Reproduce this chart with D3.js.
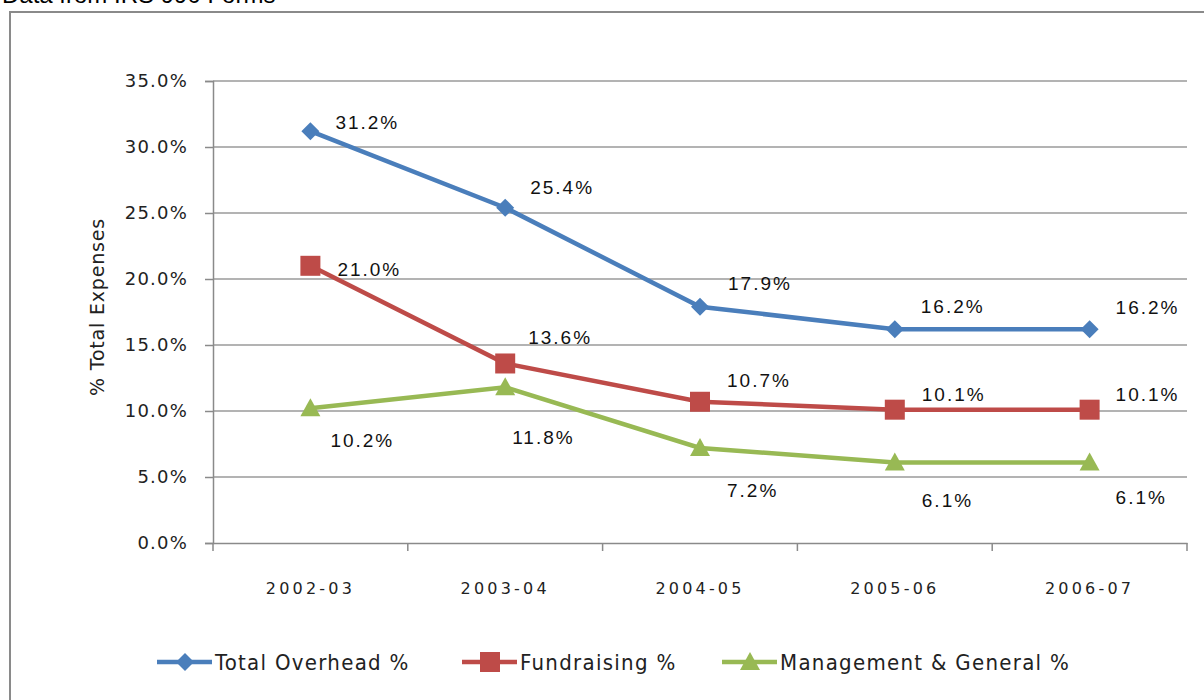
<!DOCTYPE html>
<html><head><meta charset="utf-8">
<script src="https://cdn.jsdelivr.net/npm/d3@7"></script>
<style>body{margin:0;background:#fff;overflow:hidden}svg{display:block}</style>
</head><body>
<script>
const categories = ["2002-03","2003-04","2004-05","2005-06","2006-07"];
const totalOverhead = [31.2,25.4,17.9,16.2,16.2];
const fundraising = [21.0,13.6,10.7,10.1,10.1];
const management = [10.2,11.8,7.2,6.1,6.1];
const yTicks = [0,5,10,15,20,25,30,35];
const seriesNames = ["Total Overhead %","Fundraising %","Management & General %"];

const W=1204,H=700;
const svg=d3.select("body").append("svg").attr("width",W).attr("height",H);

// outer frame
svg.append("rect").attr("x",10).attr("y",12).attr("width",1210).attr("height",720)
  .attr("fill","none").attr("stroke","#8a8a8a").attr("stroke-width",2);
svg.append("text").attr("x",2).attr("y",3).attr("font-family","Liberation Sans, Arial").attr("font-size",24)
  .attr("fill","#000").text("Data from IRS 990 Forms");

const x=d3.scaleBand().domain(categories).range([213,1187]);
const y=d3.scaleLinear().domain([0,35]).range([543,81]);

// gridlines
svg.append("g").selectAll("line").data(yTicks.filter(d=>d>0)).join("line")
  .attr("x1",213).attr("x2",1187).attr("y1",d=>y(d)).attr("y2",d=>y(d))
  .attr("stroke","#9a9a9a").attr("stroke-width",1.5);

// y axis
const yAxis=svg.append("g").attr("transform","translate(213,0)")
  .call(d3.axisLeft(y).tickValues(yTicks).tickSize(8).tickPadding(17).tickFormat(d=>d.toFixed(1)+"%"));
yAxis.select(".domain").attr("stroke","#8a8a8a").attr("stroke-width",1.5);
yAxis.selectAll(".tick line").attr("stroke","#8a8a8a").attr("stroke-width",1.5);
yAxis.selectAll("text").attr("font-family","DejaVu Sans").attr("font-size",18).attr("letter-spacing","1.2px").attr("fill","#222");

// x axis
const xAxis=svg.append("g").attr("transform","translate(0,543)")
  .call(d3.axisBottom(x).tickSize(0).tickPadding(40));
xAxis.select(".domain").attr("stroke","#8a8a8a").attr("stroke-width",1.5);
xAxis.selectAll("text").attr("font-family","DejaVu Sans").attr("font-size",16).attr("letter-spacing","3.2px").attr("fill","#222");
// boundary ticks
const edges=categories.map(c=>x(c)).concat([x.range()[1]]);
svg.append("g").selectAll("line").data(edges).join("line")
  .attr("x1",d=>d).attr("x2",d=>d).attr("y1",543).attr("y2",551)
  .attr("stroke","#8a8a8a").attr("stroke-width",1.5);

// y title
svg.append("text").attr("transform","translate(104,307) rotate(-90)").attr("text-anchor","middle")
  .attr("font-family","DejaVu Sans").attr("font-size",19).attr("letter-spacing","0.8px").attr("fill","#222").text("% Total Expenses");

const colors=["#4a7ebb","#be4b48","#98b954"];
const data=[totalOverhead,fundraising,management];
const cx=c=>x(c)+x.bandwidth()/2;
const line=d3.line().x((d,i)=>cx(categories[i])).y(d=>y(d));

const labelOffsets=[
  [[25,-9],[25,-20],[28,-23],[26,-23],[26,-22]],
  [[27,4],[23,-26],[27,-21],[27,-15],[26,-15]],
  [[20,32],[7,50],[27,42],[27,38],[26,35]]
];

function marker(g,k,px,py){
  if(k===0){g.append("path").attr("d",`M${px},${py-9}L${px+9},${py}L${px},${py+9}L${px-9},${py}Z`).attr("fill",colors[0]);}
  else if(k===1){g.append("rect").attr("x",px-10).attr("y",py-10).attr("width",20).attr("height",20).attr("fill",colors[1]);}
  else {g.append("path").attr("d",`M${px},${py-10}L${px+10},${py+8}L${px-10},${py+8}Z`).attr("fill",colors[2]);}
}

data.forEach((vals,k)=>{
  const g=svg.append("g");
  g.append("path").datum(vals).attr("d",line).attr("fill","none").attr("stroke",colors[k]).attr("stroke-width",4.5);
  vals.forEach((v,i)=>marker(g,k,cx(categories[i]),y(v)));
});
data.forEach((vals,k)=>{
  vals.forEach((v,i)=>{
    const o=labelOffsets[k][i];
    svg.append("text").attr("x",cx(categories[i])+o[0]).attr("y",y(v)+o[1]).attr("dy","0.35em")
      .attr("font-family","Liberation Sans, Arial").attr("font-size",19).attr("letter-spacing","2px").attr("fill","#111")
      .text(v.toFixed(1)+"%");
  });
});

// legend
const legX=[157,462,722];
seriesNames.forEach((n,k)=>{
  const g=svg.append("g");
  const ly=662;
  g.append("line").attr("x1",legX[k]).attr("x2",legX[k]+55).attr("y1",ly).attr("y2",ly).attr("stroke",colors[k]).attr("stroke-width",4.5);
  marker(g,k,legX[k]+28,ly);
  g.append("text").attr("x",legX[k]+58).attr("y",ly).attr("dy","0.35em").attr("font-family","DejaVu Sans Condensed, DejaVu Sans")
    .attr("font-size",22).attr("letter-spacing","1.3px").attr("fill","#222").text(n);
});
</script>
</body></html>
